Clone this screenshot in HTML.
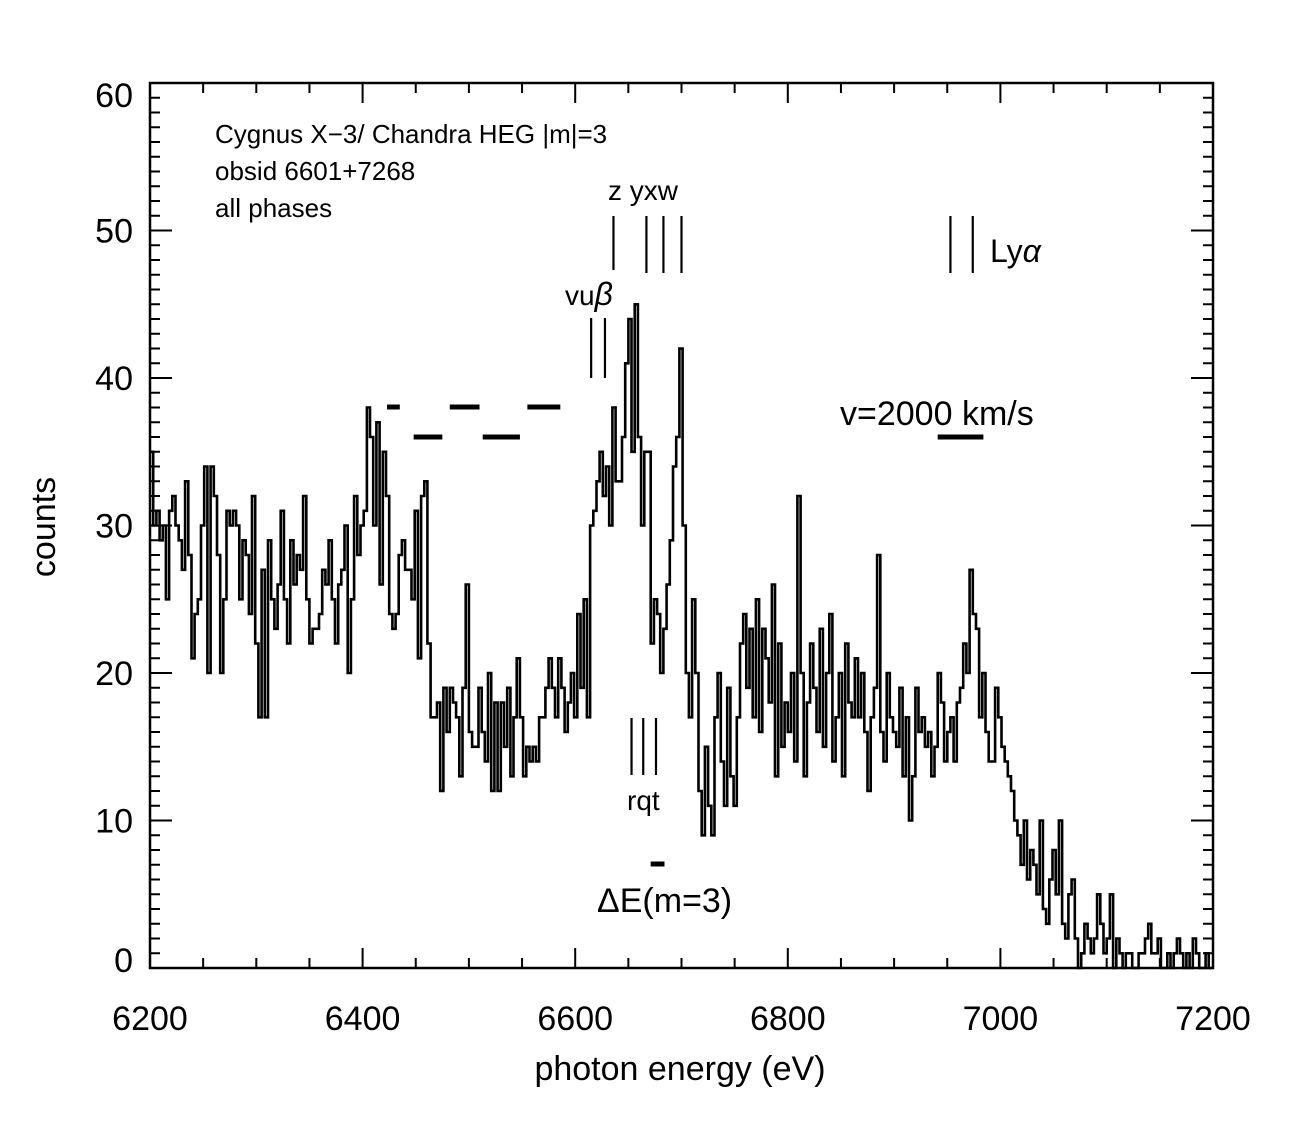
<!DOCTYPE html>
<html><head><meta charset="utf-8"><style>
body{margin:0;background:#fff}
svg text{font-family:"Liberation Sans",sans-serif;fill:#000}
</style></head><body>
<svg id="c" width="1290" height="1127" xmlns="http://www.w3.org/2000/svg">
<rect width="1290" height="1127" fill="#fff"/>
<g id="ticks"></g>
<path id="hist" fill="none" stroke="#000" stroke-width="2.6"/>
<rect x="150" y="83" width="1063" height="885" fill="none" stroke="#000" stroke-width="2.5"/>
<g id="ann" stroke="#000" stroke-width="2.2"></g>
<text x="680" y="1080" font-size="34" text-anchor="middle">photon energy (eV)</text>
<text transform="translate(55,527) rotate(-90)" font-size="34" text-anchor="middle">counts</text>
<text x="215" y="143" font-size="26">Cygnus X−3/ Chandra HEG |m|=3</text>
<text x="215" y="180" font-size="26">obsid 6601+7268</text>
<text x="215" y="217" font-size="26">all phases</text>
<text x="608" y="200" font-size="28">z yxw</text>
<text x="565" y="305" font-size="28">vu<tspan font-style="italic" font-size="32">β</tspan></text>
<text x="990" y="262" font-size="32">Ly<tspan font-style="italic">α</tspan></text>
<text x="627" y="810" font-size="28">rqt</text>
<text x="840" y="425" font-size="34">v=2000 km/s</text>
<text x="597" y="912" font-size="34">ΔE(m=3)</text>
</svg>
<script>
const binStart = 6200;
const binWidth = 3;
const counts = [
35,30,31,29,30,25,31,32,30,29,27,33,28,21,24,25,30,34,20,34,32,28,20,25,31,30,31,30,25,29,28,24,32,22,
17,27,17,29,25,23,26,31,25,22,29,26,28,27,32,25,22,23,23,24,27,26,29,25,22,26,27,30,20,25,32,28,30,31,
38,36,30,37,26,35,32,24,23,24,28,29,27,27,25,31,21,32,33,22,17,17,18,12,19,16,19,18,17,13,19,26,16,15,
15,19,16,14,20,12,18,12,18,15,19,13,17,21,17,13,15,14,15,14,17,17,19,21,19,17,21,19,16,18,20,17,24,19,
25,17,30,31,33,35,32,34,30,38,33,33,36,41,44,35,45,36,30,35,35,22,25,24,20,23,26,29,34,36,42,30,20,17,
25,20,12,9,15,11,9,17,20,14,11,19,13,11,17,22,24,19,23,17,25,16,23,21,18,26,13,22,15,18,16,20,14,32,
20,13,18,22,19,16,23,15,20,24,14,17,20,13,22,18,17,21,17,20,16,12,17,19,28,16,14,20,17,16,15,19,13,17,
10,13,19,16,17,15,16,13,15,20,18,14,16,17,14,18,19,22,20,27,24,23,17,20,16,14,14,19,17,15,14,13,12,10,
9,7,10,6,8,7,5,10,4,3,6,8,5,10,3,2,5,6,2,0,1,3,2,1,2,5,3,1,2,5,0,2,1,0,
1,1,0,0,1,1,2,3,1,1,2,0,0,1,0,1,2,1,0,1,0,2,1,0,0,1,0,0,0,0,0,0,0
];
const xTicks = [6200,6400,6600,6800,7000,7200];
const yTicks = [0,10,20,30,40,50,60];
const lineMarks = [[6636,216,270],[6667,216,273],[6683,216,273],[6700,216,273],[6953,216,273],[6974,216,273],[6615,318,378],[6628,318,378],[6653,718,775],[6664,718,775],[6676,718,775]];
const velBars = [[6423,6435,407],[6448,6475,437],[6482,6510,407],[6513,6548,437],[6555,6586,407],[6941,6984,437],[6671,6684,864]];
const X = e => 150 + (e - 6200) * 1063 / 1000;
const Y = v => 968 - v * 885 / 60;
const ns = 'http://www.w3.org/2000/svg';
let d = '';
counts.forEach((c, i) => {
  const s = binStart + i * binWidth;
  if (s >= 7200) return;
  const x0 = X(s), x1 = X(Math.min(7200, s + binWidth));
  d += (i === 0 ? 'M' : 'L') + x0.toFixed(1) + ' ' + Y(c).toFixed(1) + 'L' + x1.toFixed(1) + ' ' + Y(c).toFixed(1);
});
document.getElementById('hist').setAttribute('d', d);
const tg = document.getElementById('ticks');
function ln(g, x1, y1, x2, y2, w, name) {
  const l = document.createElementNS(ns, 'line');
  l.setAttribute('x1', x1); l.setAttribute('y1', y1); l.setAttribute('x2', x2); l.setAttribute('y2', y2);
  l.setAttribute('stroke', '#000'); l.setAttribute('stroke-width', w);
  
  
  g.appendChild(l);
}
for (let e = 6200; e <= 7200; e += 50) {
  const len = e % 200 === 0 ? 20 : 10;
  ln(tg, X(e), 968, X(e), 968 - len, 2, 'x-tick');
  ln(tg, X(e), 83, X(e), 83 + len, 2, 'x-tick-top');
}
for (let v = 0; v <= 60; v++) {
  const len = v % 10 === 0 ? 22 : 10;
  ln(tg, 150, Y(v), 150 + len, Y(v), 2, 'y-tick');
  ln(tg, 1213, Y(v), 1213 - len, Y(v), 2, 'y-tick-right');
}
xTicks.forEach(e => {
  const t = document.createElementNS(ns, 'text');
  t.setAttribute('x', X(e)); t.setAttribute('y', 1030); t.setAttribute('font-size', '34'); t.setAttribute('text-anchor', 'middle');
  t.textContent = e;
  
  
  tg.appendChild(t);
});
yTicks.forEach(v => {
  const t = document.createElementNS(ns, 'text');
  t.setAttribute('x', 133); t.setAttribute('y', Y(v) + (v === 0 ? 4 : v === 60 ? 24 : 12)); t.setAttribute('font-size', '34'); t.setAttribute('text-anchor', 'end');
  t.textContent = v;
  
  
  tg.appendChild(t);
});
const ag = document.getElementById('ann');
lineMarks.forEach(m => ln(ag, X(m[0]), m[1], X(m[0]), m[2], 2.2, 'line-marker'));
velBars.forEach(b => ln(ag, X(b[0]), b[2], X(b[1]), b[2], 5, 'velocity-bar'));
</script>
</body></html>
